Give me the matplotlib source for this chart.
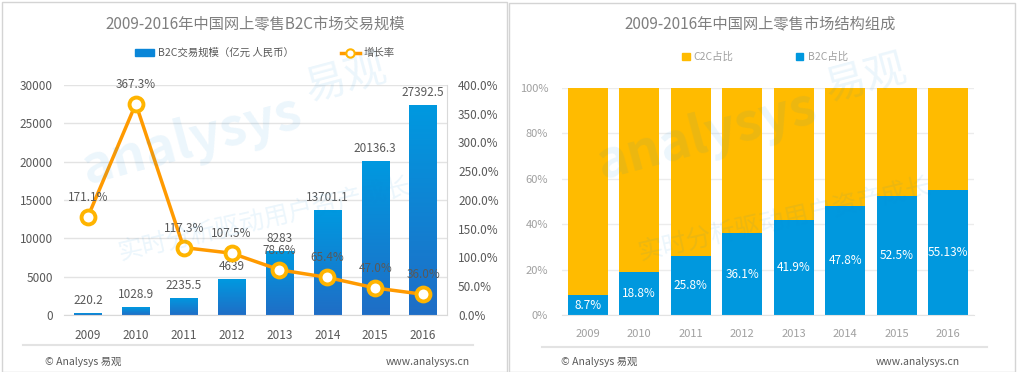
import numpy as np
import matplotlib
matplotlib.use("Agg")
import matplotlib.pyplot as plt
from matplotlib.colors import LinearSegmentedColormap
from matplotlib.lines import Line2D
from matplotlib.patches import Patch, Rectangle

plt.rcParams['font.family'] = ['Noto Sans CJK SC', 'DejaVu Sans']

# data
years = ['2009', '2010', '2011', '2012', '2013', '2014', '2015', '2016']
b2c_scale = [220.2, 1028.9, 2235.5, 4639, 8283, 13701.1, 20136.3, 27392.5]
b2c_scale_labels = ['220.2', '1028.9', '2235.5', '4639', '8283', '13701.1', '20136.3', '27392.5']
growth = [171.1, 367.3, 117.3, 107.5, 78.6, 65.4, 47.0, 36.0]
b2c_share = [8.7, 18.8, 25.8, 36.1, 41.9, 47.8, 52.5, 55.13]
share_labels = ['8.7%', '18.8%', '25.8%', '36.1%', '41.9%', '47.8%', '52.5%', '55.13%']
c2c_share = [100 - v for v in b2c_share]

W, H = 1020, 372
fig = plt.figure(figsize=(W / 100, H / 100), dpi=100)


def px_axes(x0, x1, ytop, ybot):
    return fig.add_axes([x0 / W, (H - ybot) / H, (x1 - x0) / W, (ybot - ytop) / H])


def fig_text(x, y, s, **kw):
    fig.text(x / W, (H - y) / H, s, **kw)


def fig_line(x0, x1, y, color):
    fig.add_artist(Line2D([x0 / W, x1 / W], [(H - y) / H, (H - y) / H],
                          color=color, lw=1.5, transform=fig.transFigure))


# panel frames
fig.add_artist(Rectangle((2 / W, 0), 505 / W, 370 / H, transform=fig.transFigure,
                         fill=False, ec='#d4d4d4', lw=1))
fig.add_artist(Rectangle((509 / W, 0), 506 / W, 369 / H, transform=fig.transFigure,
                         fill=False, ec='#d4d4d4', lw=1))

dark = '#595959'
light = '#a0a0a0'
grid_c = '#e3e3e3'
wm = dict(color='#0b8ad8', alpha=0.08, ha='left', va='bottom')
x = np.arange(len(years))

# ---------------- left chart ----------------
ax = px_axes(64, 447, 85, 315)
bars = ax.bar(x, b2c_scale, width=0.57, color='#0a86d8', zorder=2)
cmap = LinearSegmentedColormap.from_list('blu', ['#1f6ec6', '#0099e0'])
grad = np.linspace(0, 1, 100).reshape(-1, 1)
for b in bars:
    bx, bw, bh = b.get_x(), b.get_width(), b.get_height()
    im = ax.imshow(grad, extent=[bx, bx + bw, 0, bh], origin='lower', aspect='auto',
                   cmap=cmap, zorder=2.1)
    im.set_clip_path(b)
ax.set_xlim(-0.5, 7.5)
ax.set_ylim(0, 30000)
ax.set_yticks(range(0, 30001, 5000))
ax.set_xticks(x)
ax.set_xticklabels(years)
ax.grid(axis='y', color=grid_c, lw=1)
ax.set_axisbelow(True)
for s in ['left', 'top', 'right']:
    ax.spines[s].set_visible(False)
ax.spines['bottom'].set_color('#d9d9d9')
ax.tick_params(length=0, labelsize=8.5, colors=dark, pad=8)
ax.tick_params(axis='x', pad=10)
for i, v in enumerate(b2c_scale):
    ax.annotate(b2c_scale_labels[i], (i, v), xytext=(0, 9), textcoords='offset points',
                ha='center', va='center', fontsize=8.5, color=dark, zorder=5)

ax2 = ax.twinx()
ax2.plot(x, growth, color='#ff9a00', lw=2.5, marker='o', markersize=10,
         markerfacecolor='white', markeredgecolor='#ffb400', markeredgewidth=2.8, zorder=4)
ax2.set_ylim(0, 400)
ax2.set_yticks(range(0, 401, 50))
ax2.set_yticklabels(['%.1f%%' % v for v in range(0, 401, 50)])
for s in ['left', 'top', 'bottom']:
    ax2.spines[s].set_visible(False)
ax2.spines['right'].set_color('#d9d9d9')
ax2.tick_params(length=0, labelsize=8.5, colors=dark, pad=8)
for i, v in enumerate(growth):
    ax2.annotate('%.1f%%' % v, (i, v), xytext=(0, 14), textcoords='offset points',
                 ha='center', va='center', fontsize=8.5, color=dark, zorder=5)

# watermark left
fig_text(75, 195, 'analysys', fontsize=38, style='italic', fontweight='bold', rotation=15, **wm)
fig_text(300, 110, '易观', fontsize=30, rotation=15, **wm)
fig_text(115, 265, '实时分析驱动用户资产成长', fontsize=18, rotation=13, **wm)

fig_text(255, 25, '2009-2016年中国网上零售B2C市场交易规模', fontsize=11, color='#7f7f7f',
         ha='center', va='center')
fig.legend(handles=[Patch(color='#0a86d8'),
                    Line2D([0], [0], color='#ff9a00', lw=2.5, marker='o', markersize=6,
                           markerfacecolor='white', markeredgecolor='#ffb400', markeredgewidth=1.5)],
           labels=['B2C交易规模（亿元 人民币）', '增长率'],
           loc='center', bbox_to_anchor=(265 / W, (H - 53) / H), ncol=2, frameon=False,
           fontsize=7.5, labelcolor=dark, handlelength=1.8, handleheight=0.6,
           columnspacing=4.5, handletextpad=0.4)

fig_line(23, 473, 345, '#e3e3e3')
fig_text(45, 362, '© Analysys 易观', fontsize=7.5, color=dark, ha='left', va='center')
fig_text(470, 362, 'www.analysys.cn', fontsize=7.5, color=dark, ha='right', va='center')

# ---------------- right chart ----------------
bx_ = px_axes(562, 974, 88, 315)
bx_.bar(x, b2c_share, width=0.78, color='#0098de', zorder=2)
bx_.bar(x, c2c_share, width=0.78, bottom=b2c_share, color='#ffbb00', zorder=2)
bx_.set_xlim(-0.5, 7.5)
bx_.set_ylim(0, 100)
bx_.set_yticks(range(0, 101, 20))
bx_.set_yticklabels(['%d%%' % v for v in range(0, 101, 20)])
bx_.set_xticks(x)
bx_.set_xticklabels(years)
bx_.grid(axis='y', color='#ececec', lw=1)
bx_.set_axisbelow(True)
for s in ['left', 'top', 'right']:
    bx_.spines[s].set_visible(False)
bx_.spines['bottom'].set_color('#e3e3e3')
bx_.tick_params(length=0, labelsize=8, colors=light, pad=10)
for i, v in enumerate(b2c_share):
    bx_.text(i, v / 2, share_labels[i], ha='center', va='center', fontsize=8.5,
             color='white', zorder=5)

fig_text(590, 190, 'analysys', fontsize=38, style='italic', fontweight='bold', rotation=15, **wm)
fig_text(820, 110, '易观', fontsize=30, rotation=15, **wm)
fig_text(635, 265, '实时分析驱动用户资产成长', fontsize=18, rotation=13, **wm)

fig_text(760, 25, '2009-2016年中国网上零售市场结构组成', fontsize=11, color='#7f7f7f',
         ha='center', va='center')
fig.legend(handles=[Patch(color='#ffbb00'), Patch(color='#0098de')],
           labels=['C2C占比', 'B2C占比'],
           loc='center', bbox_to_anchor=(765 / W, (H - 57) / H), ncol=2, frameon=False,
           fontsize=7.5, labelcolor=light, handlelength=0.7, handleheight=0.7,
           columnspacing=6.0, handletextpad=0.4)

fig_line(542, 987, 347, '#e3e3e3')
fig_text(561, 362, '© Analysys 易观', fontsize=7.5, color=dark, ha='left', va='center')
fig_text(960, 362, 'www.analysys.cn', fontsize=7.5, color=dark, ha='right', va='center')

fig.savefig('out.png', dpi=100)
